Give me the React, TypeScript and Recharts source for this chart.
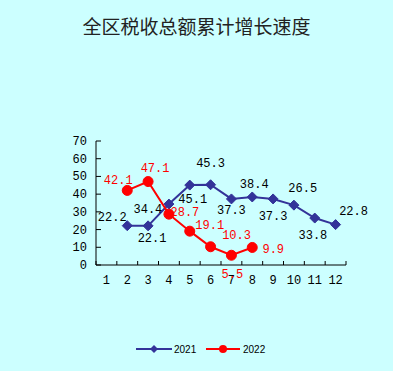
import { LineChart, Line, XAxis, YAxis, LabelList, Legend } from 'recharts';

const months = [1, 2, 3, 4, 5, 6, 7, 8, 9, 10, 11, 12];
const growth2021 = [null, 22.2, 22.1, 34.4, 45.1, 45.3, 37.3, 38.4, 37.3, 33.8, 26.5, 22.8];
const growth2022 = [null, 42.1, 47.1, 28.7, 19.1, 10.3, 5.5, 9.9, null, null, null, null];
const yTicks = [0, 10, 20, 30, 40, 50, 60, 70];
const xTickEdges = [0.5, 1.5, 2.5, 3.5, 4.5, 5.5, 6.5, 7.5, 8.5, 9.5, 10.5, 11.5, 12.5];

// hand-placed label offsets, as in the original sheet
const offsets2021: [number, number][] = [
  [0, 0], [-15, -9], [4, 12], [-21, 5], [3, 14], [0, -22],
  [0, 11], [2, -13], [0, 17], [19, 30], [-12, -30], [18, -14],
];
const offsets2022: [number, number][] = [
  [0, 0], [-9, -10], [7, -14], [16, -2], [20, -6], [26, -12],
  [1, 19], [21, 2], [0, 0], [0, 0], [0, 0], [0, 0],
];

const data = months.map((m, i) => ({
  month: m,
  y2021: growth2021[i],
  y2022: growth2022[i],
}));

const W = 393;
const H = 371;
const LEFT = 96;
const RIGHT = 47;
const HALF_BAND = (W - LEFT - RIGHT) / 12 / 2;
const BLUE = '#333399';
const RED = '#ff0000';
const numFont = '"Liberation Mono", monospace';
const FS = 12;

const XTick = (props: any) => {
  const { x, y, payload } = props;
  const v = payload.value;
  return (
    <g>
      <line x1={x} y1={y} x2={x} y2={y - 4} stroke="#000" strokeWidth={1} />
      {v < 12 && (
        <text x={x + HALF_BAND} y={y + 19} textAnchor="middle" fontSize={FS} fontFamily={numFont} fill="#000">
          {v + 0.5}
        </text>
      )}
    </g>
  );
};

const YTick = (props: any) => {
  const { x, y, payload } = props;
  return (
    <g>
      <line x1={x} y1={y} x2={x + 5} y2={y} stroke="#000" strokeWidth={1} />
      <text x={x - 9} y={y} dy={4} textAnchor="end" fontSize={FS} fontFamily={numFont} fill="#000">
        {payload.value}
      </text>
    </g>
  );
};

const makeLabel = (offs: [number, number][], color: string) => (props: any) => {
  const { x, y, value, index } = props;
  if (value == null) return null;
  const [dx, dy] = offs[index] || [0, 0];
  return (
    <text x={x + dx} y={y + dy} dy={4} textAnchor="middle" fontSize={FS} fontFamily={numFont} fill={color}>
      {Number(value).toFixed(1)}
    </text>
  );
};

const Diamond = (props: any) => {
  const { cx, cy, value } = props;
  if (value == null || cx == null) return null;
  const r = 5;
  return (
    <polygon
      points={`${cx},${cy - r} ${cx + r},${cy} ${cx},${cy + r} ${cx - r},${cy}`}
      fill={BLUE}
      stroke={BLUE}
    />
  );
};

const Circle = (props: any) => {
  const { cx, cy, value } = props;
  if (value == null || cx == null) return null;
  return <circle cx={cx} cy={cy} r={5} fill={RED} stroke={RED} />;
};

const LegendContent = () => (
  <svg width={W} height={20}>
    <line x1={136} y1={10} x2={172} y2={10} stroke={BLUE} strokeWidth={2} />
    <polygon points="154,6 158,10 154,14 150,10" fill={BLUE} />
    <text x={174} y={13.5} fontSize={10} fontFamily='"Liberation Sans", Arial' fill="#000">2021</text>
    <line x1={206} y1={10} x2={240} y2={10} stroke={RED} strokeWidth={2} />
    <circle cx={223} cy={10} r={4} fill={RED} />
    <text x={243} y={13.5} fontSize={10} fontFamily='"Liberation Sans", Arial' fill="#000">2022</text>
  </svg>
);

export default function App() {
  return (
    <div style={{ position: 'absolute', left: 0, top: 0, width: W, height: H, background: '#ccffff' }}>
      <div
        style={{
          position: 'absolute',
          top: 12,
          left: 0,
          width: W,
          textAlign: 'center',
          fontFamily: '"Noto Sans CJK SC", sans-serif',
          fontSize: 19,
          color: '#222',
        }}
      >
        全区税收总额累计增长速度
      </div>
      <LineChart width={W} height={H} data={data} margin={{ top: 141, right: RIGHT, left: 0, bottom: 56 }}>
        <XAxis
          dataKey="month"
          type="number"
          domain={[0.5, 12.5]}
          ticks={xTickEdges}
          interval={0}
          tickLine={false}
          tickSize={0}
          tickMargin={0}
          height={30}
          axisLine={{ stroke: '#000' }}
          tick={<XTick />}
        />
        <YAxis
          domain={[0, 70]}
          ticks={yTicks}
          interval={0}
          width={LEFT}
          tickLine={false}
          tickSize={0}
          tickMargin={0}
          axisLine={{ stroke: '#000' }}
          tick={<YTick />}
        />
        <Legend
          content={<LegendContent />}
          wrapperStyle={{ position: 'absolute', top: 339, left: 0, width: W, height: 20 }}
        />
        <Line
          dataKey="y2021"
          stroke={BLUE}
          strokeWidth={2}
          dot={<Diamond />}
          activeDot={false}
          isAnimationActive={false}
        >
          <LabelList dataKey="y2021" content={makeLabel(offsets2021, '#000')} />
        </Line>
        <Line
          dataKey="y2022"
          stroke={RED}
          strokeWidth={2}
          dot={<Circle />}
          activeDot={false}
          isAnimationActive={false}
        >
          <LabelList dataKey="y2022" content={makeLabel(offsets2022, RED)} />
        </Line>
      </LineChart>
    </div>
  );
}
